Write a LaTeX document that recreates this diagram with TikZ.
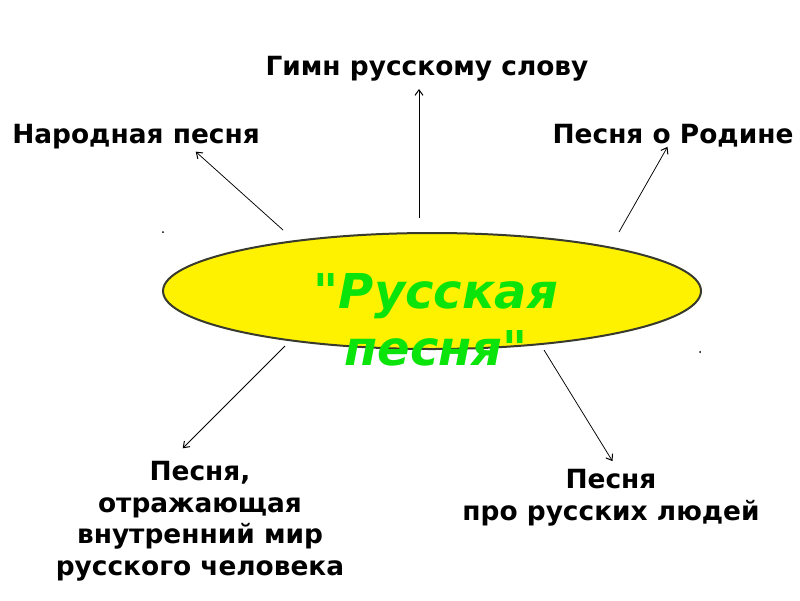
\documentclass[tikz,border=0pt]{standalone}
\usepackage{fontspec}
\setmainfont{DejaVu Sans}
\newfontfamily\titlefont{DejaVu Sans}[Ligatures=TeXOff]
\usetikzlibrary{arrows.meta,shapes.geometric}
\definecolor{songgreen}{RGB}{10,228,10}
\definecolor{rim}{RGB}{55,58,45}

\begin{document}
\begin{tikzpicture}[->,>={Straight Barb[length=5.5pt,width=8pt,line width=1pt]},shorten >=1pt,x=1pt,y=-1pt,line width=0.75pt]
  \tikzstyle{oval}=[ellipse,draw=rim,line width=2pt,fill=yellow,minimum width=538pt,minimum height=116pt,inner sep=0pt]
  \tikzstyle{topic}=[font=\fontsize{26.4}{31.5}\selectfont\bfseries,align=center,inner sep=0pt]
  \tikzstyle{title}=[font=\titlefont\fontsize{48}{57}\selectfont\bfseries\itshape,text=songgreen,align=center,inner sep=0pt]

  \useasboundingbox (0,0) rectangle (800,600);

  \node[oval]           (song)   at (432,291)  {};
  \node[title,anchor=north] (name) at (436,273) {"Русская\\песня"};

  \node[topic,anchor=base]  (hymn)   at (427,75)  {Гимн русскому слову};
  \node[topic,anchor=base]  (folk)   at (136,143) {Народная песня};
  \node[topic,anchor=base]  (home)   at (673,143) {Песня о Родине};
  \node[topic,anchor=north] (soul)   at (200,461) {Песня,\\отражающая\\внутренний мир\\русского человека};
  \node[topic,anchor=north] (people) at (611,469) {Песня\\про русских людей};

  % ends of the arrows
  \coordinate (a0) at (419,218); \coordinate (a1) at (419,88);
  \coordinate (b0) at (283,230); \coordinate (b1) at (195,151);
  \coordinate (c0) at (619,232); \coordinate (c1) at (668,146);
  \coordinate (d0) at (285,346); \coordinate (d1) at (182,449);
  \coordinate (e0) at (544,350); \coordinate (e1) at (613,462);

  \path (a0) edge (a1)
        (b0) edge (b1)
        (c0) edge (c1)
        (d0) edge (d1)
        (e0) edge (e1);

  \fill[-,black] (163,232) circle (1pt) (700,352) circle (1pt);
\end{tikzpicture}
\end{document}
